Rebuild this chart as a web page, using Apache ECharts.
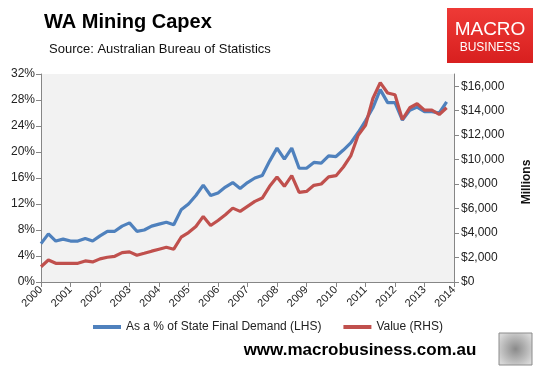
<!DOCTYPE html>
<html>
<head>
<meta charset="utf-8">
<script src="https://cdn.jsdelivr.net/npm/echarts@6/dist/echarts.min.js"></script>
<style>
html,body{margin:0;padding:0;background:#fff;}
#c{width:545px;height:369px;}
</style>
</head>
<body>
<div id="c"></div>
<script>
// Quarterly observations, 2000 Q1 .. 2013 Q4
var startYear = 2000;
var yearTicks = [2000,2001,2002,2003,2004,2005,2006,2007,2008,2009,2010,2011,2012,2013,2014];
var pctOfSFD = [5.9,7.4,6.3,6.6,6.3,6.3,6.7,6.3,7.1,7.8,7.8,8.6,9.1,7.8,8.0,8.6,8.9,9.2,8.8,11.1,
  12.0,13.3,14.9,13.3,13.7,14.6,15.3,14.4,15.3,16.0,16.4,18.6,20.6,18.9,20.6,17.5,17.5,18.4,18.3,19.4,
  19.3,20.3,21.4,23.0,24.8,26.8,29.6,27.6,27.6,24.9,26.4,26.9,26.2,26.2,26.0,27.7];
var valueMillions = [1250,1800,1530,1530,1530,1530,1720,1640,1890,2020,2100,2400,2460,2190,2350,2520,2680,2840,2680,3660,
  4040,4540,5360,4620,5030,5500,6040,5770,6180,6590,6860,7820,8590,7820,8690,7320,7400,7900,8010,8590,
  8690,9400,10300,12000,12800,15000,16300,15450,15300,13280,14240,14570,14050,14050,13690,14240];
var seriesNames = ['As a % of State Final Demand (LHS)', 'Value (RHS)'];

function toPairs(arr){ return arr.map(function(v,i){ return [startYear + i/4, v]; }); }

var chart = echarts.init(document.getElementById('c'), null, {renderer:'canvas'});
var FONT = 'Liberation Sans';
var axisCol = '#868686';
chart.setOption({
  animation:false,
  backgroundColor:'#fff',
  textStyle:{fontFamily:FONT},
  grid:{left:41,right:91,top:74,bottom:87,show:true,backgroundColor:'#f2f2f2',borderWidth:0},
  xAxis:{type:'value',min:2000,max:2014,interval:1,
    axisLine:{show:true,lineStyle:{color:axisCol}},
    axisTick:{show:true,length:5,lineStyle:{color:axisCol}},
    splitLine:{show:false},
    axisLabel:{rotate:45,fontSize:11,color:'#222',fontFamily:FONT,margin:6,
      formatter:function(v){ return yearTicks.indexOf(Math.round(v))>=0 ? String(Math.round(v)) : ''; }}
  },
  yAxis:[
    {type:'value',min:0,max:32,interval:4,position:'left',
      axisLine:{show:true,lineStyle:{color:axisCol}},
      axisTick:{show:true,length:5,lineStyle:{color:axisCol}},
      splitLine:{show:false},
      axisLabel:{fontSize:12,color:'#222',margin:6,fontFamily:FONT,formatter:function(v){return v+'%';}}
    },
    {type:'value',min:0,max:17000,interval:2000,position:'right',
      axisLine:{show:true,lineStyle:{color:axisCol}},
      axisTick:{show:true,length:5,lineStyle:{color:axisCol}},
      splitLine:{show:false},
      axisLabel:{fontSize:12,color:'#222',margin:7,fontFamily:FONT,showMaxLabel:false,
        formatter:function(v){ if(v>16000) return ''; return '$'+v.toLocaleString('en-US'); }}
    }
  ],
  legend:{left:88,top:316,itemWidth:28,itemHeight:4,itemGap:22,icon:'rect',
    textStyle:{fontSize:12,color:'#222',fontFamily:FONT},
    data:seriesNames},
  series:[
    {name:seriesNames[0],type:'line',yAxisIndex:0,data:toPairs(pctOfSFD),showSymbol:false,
      lineStyle:{width:3.2,color:'#4F81BD'},itemStyle:{color:'#4F81BD'}},
    {name:seriesNames[1],type:'line',yAxisIndex:1,data:toPairs(valueMillions),showSymbol:false,
      lineStyle:{width:3.2,color:'#C0504D'},itemStyle:{color:'#C0504D'}}
  ],
  graphic:[
    {type:'text',left:44,top:12,style:{text:'WA Mining Capex',font:'bold 20px "Liberation Sans"',fill:'#000'}},
    {type:'text',left:49,top:43,style:{text:'Source: Australian Bureau of Statistics',font:'13px "Liberation Sans"',fill:'#111'}},
    {type:'rect',shape:{x:447,y:8,width:86,height:55},style:{fill:new echarts.graphic.LinearGradient(0,0,0,1,[{offset:0,color:'#ee3a36'},{offset:1,color:'#d81f1f'}])}},
    {type:'text',x:490,y:30,style:{text:'MACRO',font:'19px "Liberation Sans"',fill:'#fff',align:'center',verticalAlign:'middle'}},
    {type:'text',x:490,y:48,style:{text:'BUSINESS',font:'12px "Liberation Sans"',fill:'#fff',align:'center',verticalAlign:'middle'}},
    {type:'text',x:527,y:182,rotation:Math.PI/2,style:{text:'Millions',font:'bold 12px "Liberation Sans"',fill:'#111',align:'center',verticalAlign:'middle'}},
    {type:'text',x:360,y:350,style:{text:'www.macrobusiness.com.au',font:'bold 17px "Liberation Sans"',fill:'#000',align:'center',verticalAlign:'middle'}},
    {type:'rect',shape:{x:499,y:333,width:33,height:32},style:{fill:new echarts.graphic.RadialGradient(0.5,0.5,0.6,[{offset:0,color:'#8a8a8a'},{offset:1,color:'#d8d8d8'}]),stroke:'#8c8c8c',lineWidth:1}}
  ]
});
</script>
</body>
</html>
